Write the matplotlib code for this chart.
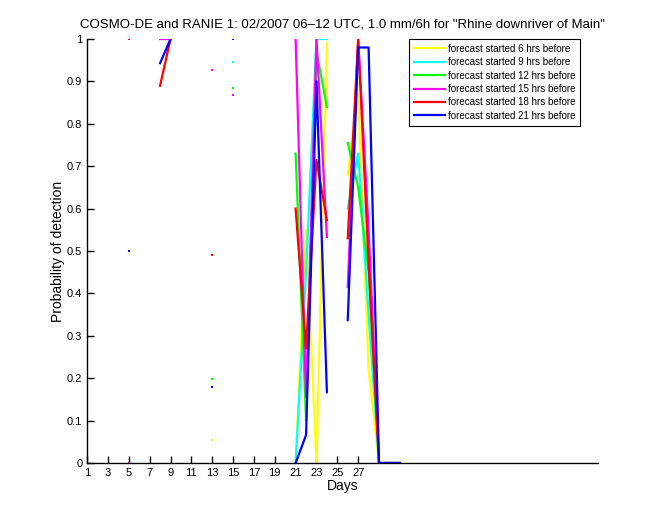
import numpy as np
import matplotlib
matplotlib.use('Agg')
import matplotlib.pyplot as plt

plt.rcParams['font.family'] = ['Liberation Sans', 'DejaVu Sans']

n = np.nan
days = np.arange(1, 32)

# probability of detection per day (NaN = no event)
pod_6h = [n, n, n, n, n, n, n, n, n, n, n, n, 0.054, n, 1.0,
          n, n, n, n, n, 0.0, 0.55, 0.0, 0.99, n, 0.68, 0.87, 0.22, 0.0, 0.0, 0.0]
pod_9h = [n, n, n, n, n, n, n, n, n, n, n, n, n, n, 0.946,
          n, n, n, n, n, 0.0, 0.45, 1.0, 1.0, n, 0.60, 0.73, 0.35, 0.0, 0.0, 0.0]
pod_12h = [n, n, n, n, n, n, n, n, n, n, n, n, 0.198, n, 0.884,
           n, n, n, n, n, 0.73, 0.10, 0.97, 0.84, n, 0.755, 0.65, 0.45, 0.0, 0.0, 0.0]
pod_15h = [n, n, n, n, 0.0, n, n, 1.0, 1.0, n, n, n, 0.927, n, 0.868,
           n, n, n, n, n, 1.0, 0.156, 1.0, 0.533, n, 0.415, 1.0, 0.55, 0.0, 0.0, 0.0]
pod_18h = [n, n, n, n, 1.0, n, n, 0.89, 1.0, n, n, n, 0.49, n, 1.0,
           n, n, n, n, n, 0.60, 0.27, 0.715, 0.573, n, 0.53, 1.0, 0.47, 0.0, 0.0, 0.0]
pod_21h = [n, n, n, n, 0.5, n, n, 0.943, 1.0, n, n, n, 0.179, n, 1.0,
           n, n, n, n, n, 0.0, 0.066, 0.90, 0.167, n, 0.337, 0.98, 0.98, 0.0, 0.0, 0.0]

series = [pod_6h, pod_9h, pod_12h, pod_15h, pod_18h, pod_21h]
labels = ['forecast started 6 hrs before', 'forecast started 9 hrs before',
          'forecast started 12 hrs before', 'forecast started 15 hrs before',
          'forecast started 18 hrs before', 'forecast started 21 hrs before']
colors = ['#ffff00', '#00ffff', '#00ff00', '#ff00ff', '#ff0000', '#0000ff']

fig = plt.figure(figsize=(6.6, 5.2), dpi=100)
ax = fig.add_axes([0.132, 0.1096, 0.774, 0.8154])

for vals, col, lab in zip(series, colors, labels):
    v = np.array(vals, dtype=float)
    ax.plot(days, v, color=col, lw=1.6, label=lab)
    # isolated points (no neighbours) shown as small dots like matlab
    ok = ~np.isnan(v)
    prev = np.r_[False, ok[:-1]]
    nxt = np.r_[ok[1:], False]
    iso = ok & ~prev & ~nxt
    ax.plot(days[iso], v[iso], ls='none', marker='s', ms=1.8, color=col, mew=0)

ax.set_xlim(1, 50)
ax.set_ylim(0, 1)
ax.set_xticks(np.arange(1, 28, 2))
ax.set_yticks(np.arange(0, 1.01, 0.1))
ax.set_yticklabels(['0', '0.1', '0.2', '0.3', '0.4', '0.5', '0.6', '0.7', '0.8', '0.9', '1'])
ax.tick_params(direction='in', length=5, labelsize=8, width=1)
for s in ['top', 'right']:
    ax.spines[s].set_visible(False)
for s in ['left', 'bottom']:
    ax.spines[s].set_linewidth(1)

ax.set_xlabel('Days', fontsize=10, labelpad=1)
ax.set_ylabel('Probability of detection', fontsize=10, labelpad=1)
ax.set_title('COSMO-DE and RANIE 1: 02/2007 06\u201312 UTC, 1.0 mm/6h for "Rhine downriver of Main"',
             fontsize=9.5, pad=8)

leg = ax.legend(loc='upper right', bbox_to_anchor=(580 / 660, 1 - 39 / 520),
                bbox_transform=fig.transFigure, borderaxespad=0, fontsize=7,
                fancybox=False, framealpha=1, edgecolor='black',
                handlelength=3.2, handletextpad=0.3, labelspacing=0.35,
                borderpad=0.5)
leg.get_frame().set_linewidth(0.8)

fig.savefig('out.png', dpi=100, facecolor='white')
